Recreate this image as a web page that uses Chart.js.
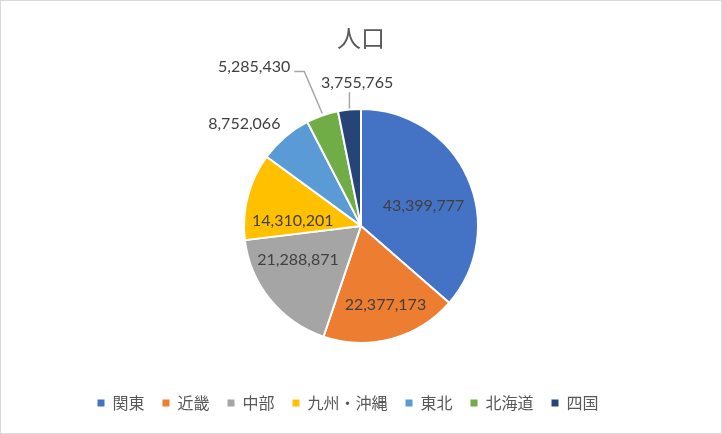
<!DOCTYPE html>
<html>
<head>
<meta charset="utf-8">
<script src="https://cdn.jsdelivr.net/npm/chart.js@4"></script>
<style>
  html, body { margin: 0; padding: 0; background: #fff; }
  #wrap { width: 722px; height: 434px; }
</style>
</head>
<body>
<div id="wrap"><canvas id="pop_pie" width="722" height="434"></canvas></div>
<script>
// data
const regions = ['関東', '近畿', '中部', '九州・沖縄', '東北', '北海道', '四国'];
const population = [43399777, 22377173, 21288871, 14310201, 8752066, 5285430, 3755765];
const sliceColors = ['#4472C4', '#ED7D31', '#A5A5A5', '#FFC000', '#5B9BD5', '#70AD47', '#264478'];

const jpFont = '"Noto Sans CJK JP", "Noto Sans", sans-serif';
const numFont = 'Lato, "Noto Sans", sans-serif';

// where Excel put each data label: radius factor and angle nudge (deg) from slice middle
const labelSpots = [
    {r: 0.56, da: 7},
    {r: 0.71, da: -2},
    {r: 0.61, da: 11},
    {r: 0.585, da: -10.5},
    {r: 1.325, da: -8.3},
    {r: 1.64, da: -14.5, leader: 'elbow'},
    {r: 1.22, da: 4.1, leader: 'up'}
];

const frame = {
    id: 'frame',
    afterLayout(chart) {
        // excel centres the legend a bit further left than chart.js does
        chart.legend.left -= 13;
        chart.legend.right -= 13;
    },
    beforeDraw(chart) {
        const ctx = chart.ctx;
        ctx.save();
        ctx.fillStyle = '#fff';
        ctx.fillRect(0, 0, chart.width, chart.height);
        ctx.strokeStyle = '#D9D9D9';
        ctx.lineWidth = 1;
        ctx.strokeRect(0.5, 0.5, chart.width - 1, chart.height - 1);
        ctx.restore();
    }
};

const valueLabels = {
    id: 'valueLabels',
    afterDatasetsDraw(chart) {
        const ctx = chart.ctx;
        const meta = chart.getDatasetMeta(0);
        const values = chart.data.datasets[0].data;
        ctx.save();
        ctx.font = '16px ' + numFont;
        ctx.fillStyle = '#404040';
        ctx.textAlign = 'center';
        ctx.textBaseline = 'middle';
        meta.data.forEach((arc, i) => {
            const p = arc.getProps(['x', 'y', 'startAngle', 'endAngle', 'outerRadius'], true);
            const spot = labelSpots[i];
            const mid = (p.startAngle + p.endAngle) / 2;
            const a = mid + spot.da * Math.PI / 180;
            const lx = p.x + Math.cos(a) * p.outerRadius * spot.r;
            const ly = p.y + Math.sin(a) * p.outerRadius * spot.r;
            const txt = values[i].toLocaleString('en-US');
            const ex = p.x + Math.cos(mid) * p.outerRadius;
            const ey = p.y + Math.sin(mid) * p.outerRadius;
            if (spot.leader) {
                ctx.strokeStyle = '#A6A6A6';
                ctx.lineWidth = 1.5;
                ctx.beginPath();
                if (spot.leader === 'elbow') {
                    const w = ctx.measureText(txt).width;
                    ctx.moveTo(lx + w / 2 + 4, ly + 5);
                    ctx.lineTo(lx + w / 2 + 14, ly + 5);
                    ctx.lineTo(ex, ey - 2);
                } else {
                    ctx.moveTo(ex, ey - 1);
                    ctx.lineTo(ex, ly + 9);
                }
                ctx.stroke();
            }
            ctx.fillText(txt, lx, ly);
        });
        ctx.restore();
    }
};

const config = {
    type: 'pie',
    data: {
        labels: regions,
        datasets: [{
            data: population,
            backgroundColor: sliceColors,
            borderColor: '#fff',
            borderWidth: 2
        }]
    },
    options: {
        responsive: false,
        animation: false,
        radius: 117,
        layout: {padding: {top: 9, bottom: 13, left: 0, right: 0}},
        plugins: {
            title: {
                display: true,
                text: '人口',
                color: '#595959',
                font: {family: jpFont, size: 24, weight: 'normal'},
                padding: {top: 14, bottom: 23}
            },
            legend: {
                display: true,
                position: 'bottom',
                labels: {
                    color: '#595959',
                    font: {family: jpFont, size: 16},
                    boxWidth: 7,
                    boxHeight: 7,
                    padding: 18,
                    generateLabels(chart) {
                        const items = Chart.overrides.pie.plugins.legend.labels.generateLabels(chart);
                        items.forEach(it => { it.lineWidth = 0; it.strokeStyle = 'rgba(0,0,0,0)'; });
                        return items;
                    }
                }
            },
            tooltip: {enabled: false}
        }
    },
    plugins: [frame, valueLabels]
};

const popChart = new Chart('pop_pie', config);
</script>
</body>
</html>
